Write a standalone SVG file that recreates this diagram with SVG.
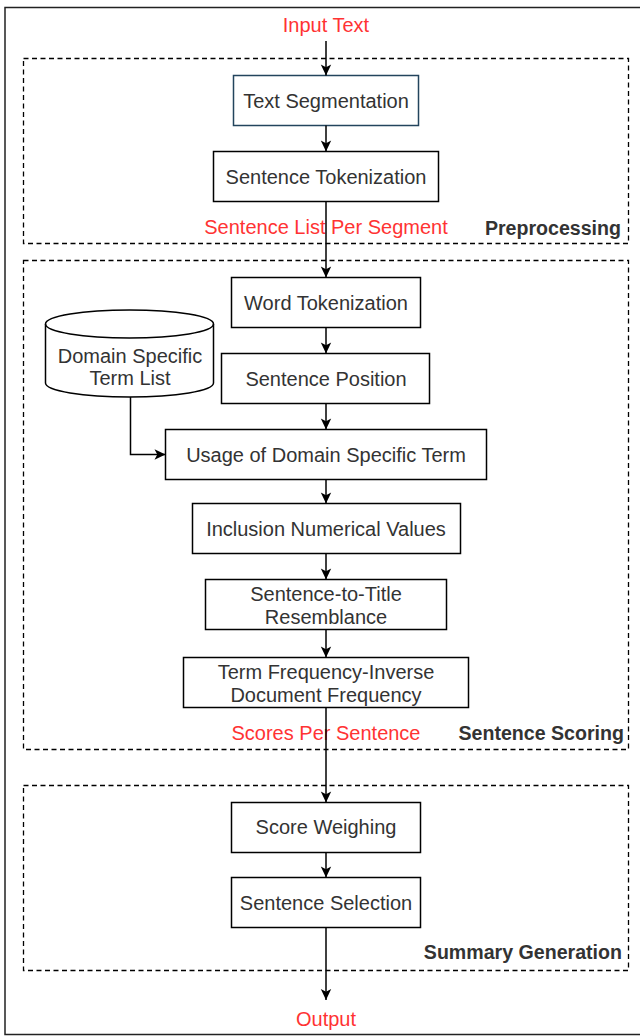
<svg xmlns="http://www.w3.org/2000/svg" width="640" height="1036" viewBox="0 0 640 1036">
<style>
.node{fill:#ffffff;stroke:#000000;stroke-width:1.5}
.grp{fill:none;stroke:#000000;stroke-width:1.3;stroke-dasharray:5 3.5}
.lbl{font-family:"Liberation Sans",Arial,sans-serif;font-size:20px;fill:#333333;text-anchor:middle}
.red{font-family:"Liberation Sans",Arial,sans-serif;font-size:20px;fill:#ff3333;text-anchor:middle}
.gl{font-family:"Liberation Sans",Arial,sans-serif;font-size:19.6px;font-weight:bold;fill:#333333;text-anchor:end}
.edge{fill:none;stroke:#000000;stroke-width:1.5;marker-end:url(#arr)}
</style>
<defs>
<marker id="arr" markerUnits="userSpaceOnUse" markerWidth="14" markerHeight="14" viewBox="0 0 14 14" refX="12" refY="7" orient="auto">
<path d="M1,1.8 L12,7 L1,12.2 L3.8,7 Z" fill="#000000"/>
</marker>
</defs>
<rect x="0" y="0" width="640" height="1036" fill="#ffffff"/>
<rect id="frame" x="5" y="7.5" width="640" height="1027" fill="none" stroke="#222222" stroke-width="1.5"/>

<g id="group-preprocessing">
<rect class="grp" x="23.5" y="58.5" width="605" height="185"/>
<text class="gl" x="621" y="235">Preprocessing</text>
<text class="red" x="326" y="234">Sentence List Per Segment</text>
</g>
<g id="group-scoring">
<rect class="grp" x="23.5" y="260.5" width="605" height="489"/>
<text class="gl" x="624" y="740">Sentence Scoring</text>
<text class="red" x="326" y="740">Scores Per Sentence</text>
</g>
<g id="group-summary">
<rect class="grp" x="23.5" y="785.5" width="605" height="185"/>
<text class="gl" x="622" y="959">Summary Generation</text>
</g>

<g id="input"><text class="red" x="326" y="32">Input Text</text></g>
<g id="output"><text class="red" x="326" y="1026">Output</text></g>

<g id="text-segmentation">
<rect class="node" x="233.5" y="75.5" width="185" height="50" style="stroke:#23445d"/>
<text class="lbl" x="326" y="108">Text Segmentation</text>
</g>
<g id="sentence-tokenization">
<rect class="node" x="213.5" y="151.5" width="225" height="50"/>
<text class="lbl" x="326" y="184">Sentence Tokenization</text>
</g>
<g id="word-tokenization">
<rect class="node" x="231.5" y="277.5" width="189" height="50"/>
<text class="lbl" x="326" y="310">Word Tokenization</text>
</g>
<g id="sentence-position">
<rect class="node" x="221.5" y="353.5" width="208" height="50"/>
<text class="lbl" x="326" y="386">Sentence Position</text>
</g>
<g id="domain-term-list">
<path class="node" d="M45.5,324 L45.5,383 A84,14 0 0 0 213.5,383 L213.5,324 A84,14 0 0 0 45.5,324 Z"/>
<path d="M45.5,324 A84,14 0 0 0 213.5,324" fill="none" stroke="#000000" stroke-width="1.5"/>
<text class="lbl" x="130" y="363">Domain Specific</text>
<text class="lbl" x="130" y="385">Term List</text>
</g>
<g id="usage-domain-term">
<rect class="node" x="165.5" y="429.5" width="321" height="50"/>
<text class="lbl" x="326" y="462">Usage of Domain Specific Term</text>
</g>
<g id="inclusion-numerical">
<rect class="node" x="192.5" y="503.5" width="268" height="50"/>
<text class="lbl" x="326" y="536">Inclusion Numerical Values</text>
</g>
<g id="sentence-title">
<rect class="node" x="205.5" y="579.5" width="241" height="50"/>
<text class="lbl" x="326" y="601">Sentence-to-Title</text>
<text class="lbl" x="326" y="624">Resemblance</text>
</g>
<g id="tfidf">
<rect class="node" x="183.5" y="657.5" width="285" height="50"/>
<text class="lbl" x="326" y="679">Term Frequency-Inverse</text>
<text class="lbl" x="326" y="702">Document Frequency</text>
</g>
<g id="score-weighing">
<rect class="node" x="231.5" y="802.5" width="189" height="50"/>
<text class="lbl" x="326" y="834">Score Weighing</text>
</g>
<g id="sentence-selection">
<rect class="node" x="231.5" y="877.5" width="189" height="50"/>
<text class="lbl" x="326" y="910">Sentence Selection</text>
</g>

<g id="connectors">
<path class="edge" d="M326,41 L326,75.5"/>
<path class="edge" d="M326,125.5 L326,151.5"/>
<path class="edge" d="M326,201.5 L326,277.5"/>
<path class="edge" d="M326,327.5 L326,353.5"/>
<path class="edge" d="M326,403.5 L326,429.5"/>
<path class="edge" d="M130.5,397 L130.5,454.5 L165.5,454.5"/>
<path class="edge" d="M326,479.5 L326,503.5"/>
<path class="edge" d="M326,553.5 L326,579.5"/>
<path class="edge" d="M326,629.5 L326,657.5"/>
<path class="edge" d="M326,707.5 L326,802.5"/>
<path class="edge" d="M326,852.5 L326,877.5"/>
<path class="edge" d="M326,927.5 L326,1000"/>
</g>
</svg>
